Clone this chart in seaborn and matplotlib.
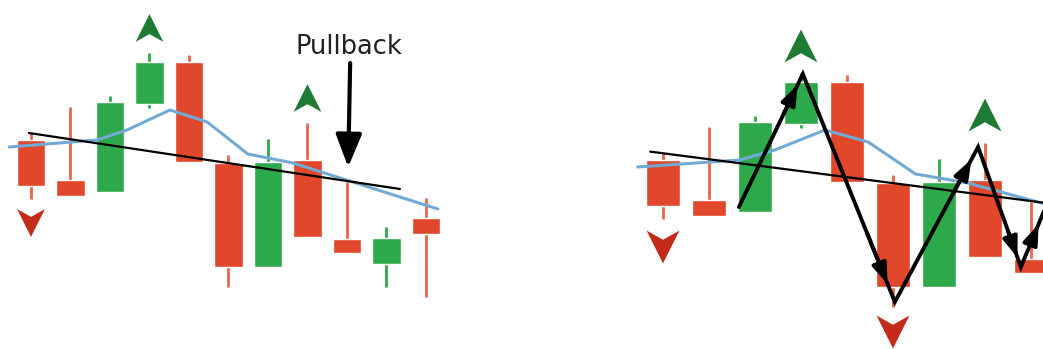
import numpy as np
import pandas as pd
import matplotlib
matplotlib.use('Agg')
import matplotlib.pyplot as plt
from matplotlib.path import Path
import seaborn as sns

# Candles (same price action drawn in both panels)
candle_idx = [0, 1, 2, 3, 4, 5, 6, 7, 8, 9, 10]
opens  = [160, 120, 108, 196, 238, 137,  33, 140, 61, 36, 82]
closes = [114, 104, 198, 238, 138,  33, 138,  63, 47, 62, 66]
highs  = [167, 193, 204, 247, 245, 145, 161, 177, 118, 73, 102]
lows   = [101, 104, 108, 192, 138,  13,  33,  63, 47, 13,  3]

# Moving average
ma_x = [-0.55, 1.67, 2.43, 3.52, 4.46, 5.49, 6.63, 10.3]
ma_y = [153, 160, 170, 190, 178, 146, 137, 91]

# Trend line
trend_left_x = [-0.05, 9.34]
trend_left_y = [167, 111]
trend_right_x = [-0.28, 9.5]
trend_right_y = [168.4, 110]

# Swing markers
left_up_x, left_up_y = [3, 7], [272, 202]
left_dn_x, left_dn_y = [0], [77]
right_up_x, right_up_y = [3, 7], [274, 205]
right_dn_x, right_dn_y = [0, 5], [73, -12]

# Zigzag swings (right panel)
zig_x = [1.65, 3.04, 5.04, 6.85, 7.78, 8.4]
zig_y = [113, 246, 18, 173, 53, 122]

# Pullback arrow (left panel)
pull_label = 'Pullback'
pull_x = [8.08, 8.03]
pull_y = [237, 133]

RED = '#E0472B'
RED_WICK = '#E8664C'
GREEN = '#2DA84A'
MARK_GREEN = '#1F7A33'
MARK_RED = '#C42A18'
MA_BLUE = '#72AAD6'

sns.set_style('white')

up_marker = Path([(0, 0.5), (0.5, -0.5), (0, -0.22), (-0.5, -0.5), (0, 0.5)],
                 [Path.MOVETO, Path.LINETO, Path.LINETO, Path.LINETO, Path.CLOSEPOLY])
dn_marker = Path([(0, -0.5), (0.5, 0.5), (0, 0.22), (-0.5, 0.5), (0, -0.5)],
                 [Path.MOVETO, Path.LINETO, Path.LINETO, Path.LINETO, Path.CLOSEPOLY])

fig = plt.figure(figsize=(10.43, 3.49), dpi=100)
ax_l = fig.add_axes([0, 0, 0.5, 1])
ax_r = fig.add_axes([0.5, 0, 0.5, 1])


def draw_candles(ax):
    cols = [GREEN if c > o else RED for o, c in zip(opens, closes)]
    wcols = [GREEN if c > o else RED_WICK for o, c in zip(opens, closes)]
    ax.vlines(candle_idx, lows, highs, colors=wcols, lw=2, zorder=1)
    ax.bar(candle_idx, np.array(closes) - np.array(opens), bottom=opens,
           width=0.73, color=cols, zorder=2)
    ma = pd.DataFrame({'x': ma_x, 'y': ma_y})
    sns.lineplot(data=ma, x='x', y='y', ax=ax, color=MA_BLUE, lw=2.2,
                 sort=False, zorder=3)


def draw_marks(ax, ux, uy, dx, dy, s):
    sns.scatterplot(x=ux, y=uy, ax=ax, marker=up_marker, s=s,
                    color=MARK_GREEN, edgecolor='none', zorder=5)
    sns.scatterplot(x=dx, y=dy, ax=ax, marker=dn_marker, s=s,
                    color=MARK_RED, edgecolor='none', zorder=5)


# left panel
draw_candles(ax_l)
ax_l.plot(trend_left_x, trend_left_y, color='black', lw=1.6, zorder=4)
draw_marks(ax_l, left_up_x, left_up_y, left_dn_x, left_dn_y, 400)
ax_l.annotate('', xy=(pull_x[1], pull_y[1]), xytext=(pull_x[0], pull_y[0]),
              arrowprops=dict(arrowstyle='-|>,head_length=1.0,head_width=0.4',
                              color='black', lw=3, mutation_scale=20,
                              shrinkA=0, shrinkB=0), zorder=6)
ax_l.text(8.05, 253, pull_label, ha='center', va='center', fontsize=18.5,
          color='#222222')
ax_l.set_xlim(-31 / 39.5, (521.5 - 31) / 39.5)
ax_l.set_ylim(-49, 300)

# right panel
draw_candles(ax_r)
ax_r.plot(trend_right_x, trend_right_y, color='black', lw=1.6, zorder=4)
draw_marks(ax_r, right_up_x, right_up_y, right_dn_x, right_dn_y, 560)
ax_r.plot(zig_x, zig_y, color='black', lw=2.8, zorder=6, solid_joinstyle='miter')
for i in range(1, len(zig_x)):
    x0, y0 = zig_x[i - 1], zig_y[i - 1]
    x1, y1 = zig_x[i], zig_y[i]
    tip = (x0 + 0.92 * (x1 - x0), y0 + 0.92 * (y1 - y0))
    tail = (x0 + 0.7 * (x1 - x0), y0 + 0.7 * (y1 - y0))
    if i == len(zig_x) - 1:
        tip = (x0 + 0.62 * (x1 - x0), y0 + 0.62 * (y1 - y0))
        tail = (x0 + 0.35 * (x1 - x0), y0 + 0.35 * (y1 - y0))
    ax_r.annotate('', xy=tip, xytext=tail,
                  arrowprops=dict(arrowstyle='-|>,head_length=0.6,head_width=0.22',
                                  color='black', lw=2.8, mutation_scale=20,
                                  shrinkA=0, shrinkB=0), zorder=7)
ax_r.set_xlim((521.5 - 663) / 46, (1043 - 663) / 46)
ax_r.set_ylim(-29, 320)

for ax in (ax_l, ax_r):
    ax.axis('off')

fig.savefig('out.png', dpi=100, facecolor='white')
